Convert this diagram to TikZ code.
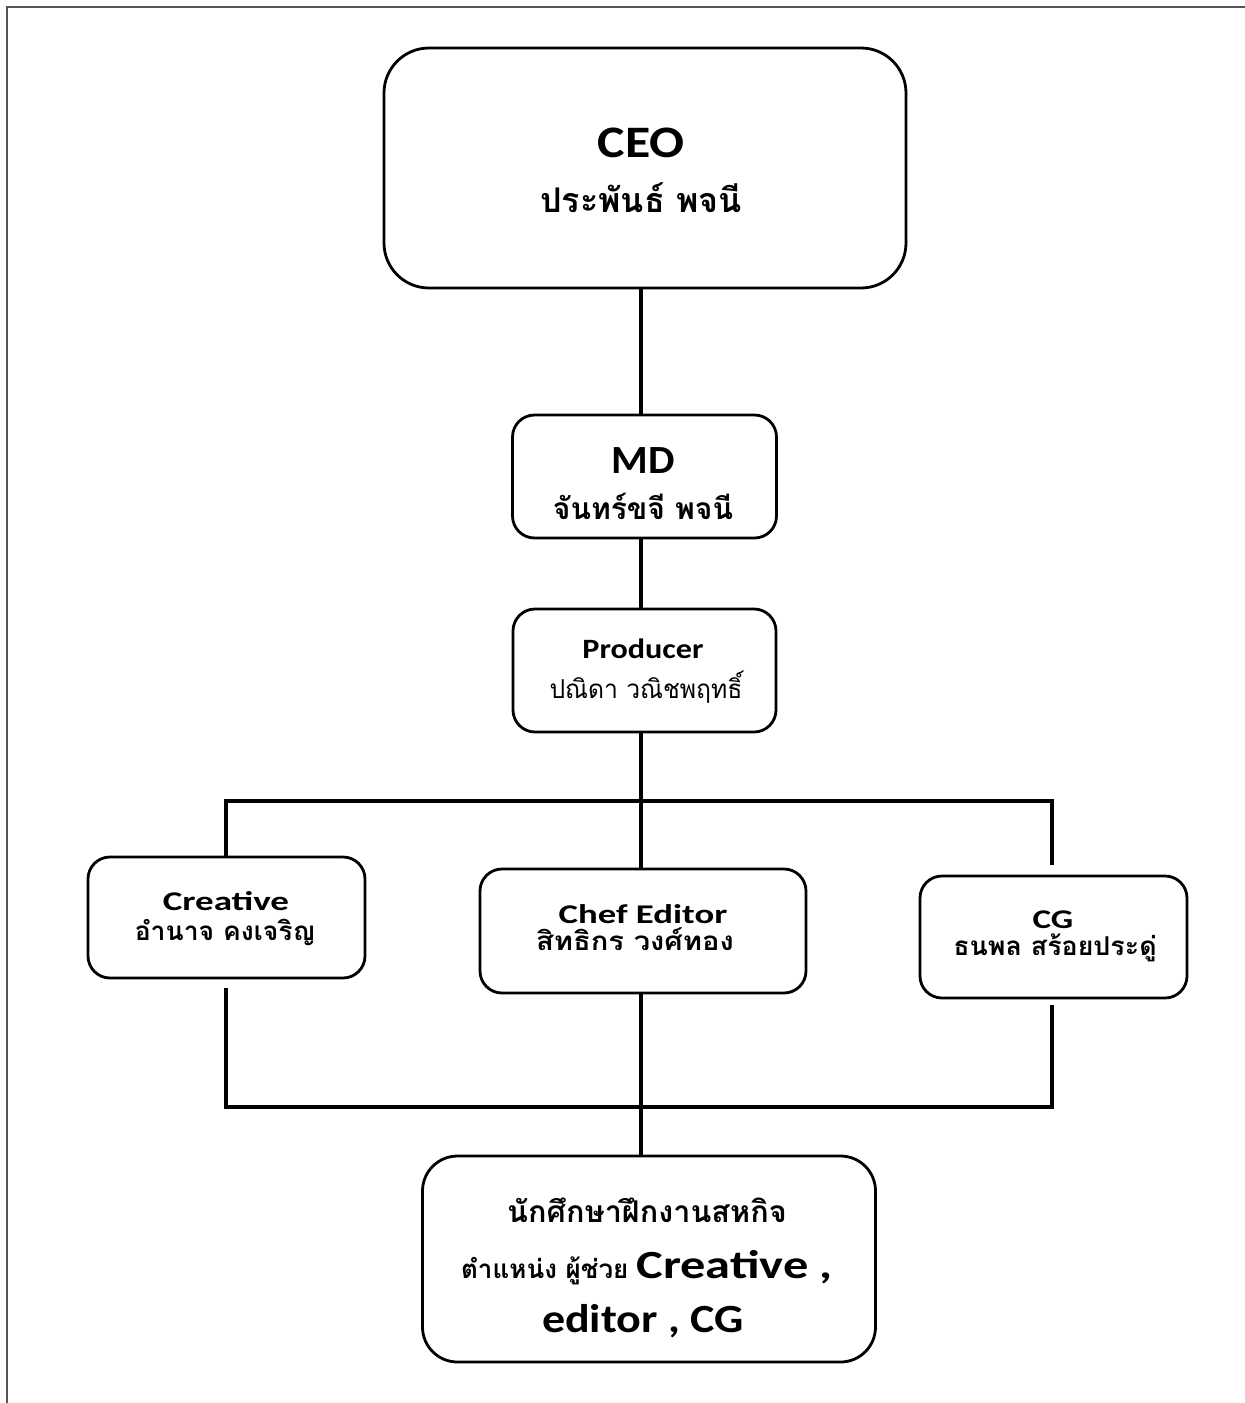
\documentclass[tikz,border=0pt]{standalone}
\usepackage{fontspec}
\usepackage{graphicx}
\setmainfont{Carlito}
\newfontfamily\thai[Script=Thai]{Loma}
\definecolor{framegray}{HTML}{555555}
\newcommand{\sx}[2]{\scalebox{#1}[1]{#2}}
\tikzset{
  box/.style={draw=black, line width=2.8pt, rounded corners=22pt, fill=white, inner sep=0pt},
  link/.style={draw=black, line width=3.5pt},
  lat/.style={anchor=base, inner sep=0pt},
  th/.style={anchor=base, inner sep=0pt}
}
\begin{document}
\begin{tikzpicture}[x=1pt,y=-1pt]
\useasboundingbox (0,0) rectangle (1245,1403);
% outer frame
\draw[framegray, line width=2pt] (7,1403) -- (7,7) -- (1245,7);

% boxes
\node[box, rounded corners=45pt, minimum width=522pt, minimum height=240pt] (ceo) at (645,168) {};
\node[box, minimum width=264pt, minimum height=123pt] (md) at (644.5,476.5) {};
\node[box, minimum width=263pt, minimum height=123pt] (prod) at (644.5,670.5) {};
\node[box, minimum width=277pt, minimum height=121pt] (cre) at (226.5,917.5) {};
\node[box, minimum width=326pt, minimum height=124pt] (chef) at (643,931) {};
\node[box, minimum width=267pt, minimum height=122pt] (cg) at (1053.5,937) {};
\node[box, rounded corners=35pt, minimum width=453pt, minimum height=206pt] (intern) at (649,1259) {};

% connector points
\coordinate (tl) at (226,801);
\coordinate (tm) at (641,801);
\coordinate (tr) at (1052,801);
\coordinate (bl) at (226,1107);
\coordinate (bm) at (641,1107);
\coordinate (br) at (1052,1107);
\coordinate (cgtop) at (1052,865);
\coordinate (crebot) at (226,988);
\coordinate (cgbot) at (1052,1005);

% connectors
\draw[link] (ceo.south -| tm) -- (md.north -| tm);
\draw[link] (md.south -| tm) -- (prod.north -| tm);
\draw[link] (prod.south -| tm) -- (tm);
\draw[link] (cre.north -| tl) -- (tl) -- (tr) -- (cgtop);
\draw[link] (tm) -- (chef.north -| tm);
\draw[link] (crebot) -- (bl) -- (br) -- (cgbot);
\draw[link] (chef.south -| tm) -- (intern.north -| tm);

% texts
\node[lat, font=\bfseries\fontsize{45}{54}\selectfont] (ceot) at (641,157) {\sx{1.15}{CEO}};
\node[th, font=\thai\bfseries\fontsize{34}{40}\selectfont] (ceon) at (641,212) {ประพันธ์ พจนี};

\node[lat, font=\bfseries\fontsize{40}{48}\selectfont] (mdt) at (643,473) {\sx{1.05}{MD}};
\node[th, font=\thai\bfseries\fontsize{30}{36}\selectfont] (mdn) at (643,519) {จันทร์ขจี พจนี};

\node[lat, font=\bfseries\fontsize{28}{34}\selectfont] (prodt) at (643,658) {\sx{1.15}{Producer}};
\node[th, font=\thai\fontsize{26}{32}\selectfont] (prodn) at (646,698) {\sx{0.95}{ปณิดา วณิชพฤทธิ์}};

\node[lat, font=\bfseries\fontsize{27}{33}\selectfont] (cret) at (226,910) {\sx{1.37}{Creative}};
\node[th, font=\thai\bfseries\fontsize{26}{32}\selectfont] (cren) at (225,940) {\sx{1.02}{อำนาจ คงเจริญ}};

\node[lat, font=\bfseries\fontsize{27}{33}\selectfont] (cheft) at (643,923) {\sx{1.36}{Chef Editor}};
\node[th, font=\thai\bfseries\fontsize{26}{32}\selectfont] (chefn) at (635,950) {\sx{1.12}{สิทธิกร วงศ์ทอง}};

\node[lat, font=\bfseries\fontsize{27}{33}\selectfont] (cgt) at (1053,928) {\sx{1.3}{CG}};
\node[th, font=\thai\bfseries\fontsize{26}{32}\selectfont] (cgn) at (1055,955) {\sx{1.03}{ธนพล สร้อยประดู่}};

\node[th, font=\thai\bfseries\fontsize{30}{36}\selectfont] (int1) at (647,1222) {\sx{1.02}{นักศึกษาฝึกงานสหกิจ}};
\node[th] (int2) at (647,1278) {{\thai\bfseries\fontsize{26}{32}\selectfont ตำแหน่ง ผู้ช่วย}\hspace{8pt}\sx{1.26}{\bfseries\fontsize{40}{48}\selectfont Creative ,}};
\node[lat, font=\bfseries\fontsize{40}{48}\selectfont] (int3) at (643,1332) {\sx{1.15}{editor , CG}};
\end{tikzpicture}
\end{document}
